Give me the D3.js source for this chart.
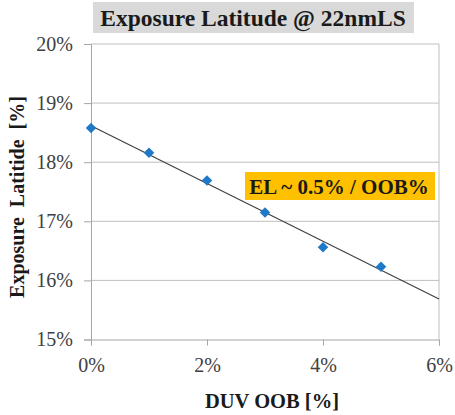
<!DOCTYPE html>
<html>
<head>
<meta charset="utf-8">
<script src="https://cdn.jsdelivr.net/npm/d3@7"></script>
<style>
  body { margin: 0; background: #fff; }
  text { font-family: "Liberation Serif", "Times New Roman", serif; }
</style>
</head>
<body>
<div id="chart"></div>
<script>
// data
const oob = [0, 1, 2, 3, 4, 5];                       // DUV OOB [%]
const el = [18.58, 18.16, 17.69, 17.15, 16.56, 16.23]; // exposure latitude [%]
const xTicks = [0, 2, 4, 6];
const yTicks = [15, 16, 17, 18, 19, 20];
const titleText = 'Exposure Latitude @ 22nmLS';
const noteText = 'EL ~ 0.5% / OOB%';

const width = 455, height = 415;
const margin = {top: 44, right: 16, bottom: 75.5, left: 91};

const svg = d3.select('#chart').append('svg')
    .attr('width', width)
    .attr('height', height);

const x = d3.scaleLinear().domain([0, 6]).range([margin.left, width - margin.right]);
const y = d3.scaleLinear().domain([15, 20]).range([height - margin.bottom, margin.top]);

// gridlines
svg.append('g')
    .selectAll('line')
    .data(yTicks.filter(d => d > 15))
    .enter().append('line')
        .attr('x1', x(0)).attr('x2', x(6))
        .attr('y1', d => y(d)).attr('y2', d => y(d))
        .attr('stroke', '#bfbfbf').attr('stroke-width', 1);

// right edge
svg.append('line')
    .attr('x1', x(6)).attr('x2', x(6))
    .attr('y1', y(20)).attr('y2', y(15))
    .attr('stroke', '#bfbfbf');

const yAxis = svg.append('g')
    .attr('transform', `translate(${x(0)},0)`)
    .call(d3.axisLeft(y).tickValues(yTicks).tickSize(7).tickPadding(11).tickFormat(d => d + '%'));

const xAxis = svg.append('g')
    .attr('transform', `translate(0,${y(15)})`)
    .call(d3.axisBottom(x).tickValues(xTicks).tickSize(6).tickPadding(12).tickFormat(d => d + '%'));

[xAxis, yAxis].forEach(a => {
    a.select('.domain').attr('stroke', '#a6a6a6');
    a.selectAll('.tick line').attr('stroke', '#a6a6a6');
    a.selectAll('.tick text')
        .attr('fill', '#404040')
        .style('font-family', '"Liberation Serif", serif')
        .style('font-size', '20px');
});

// least squares trend line
const mx = d3.mean(oob), my = d3.mean(el);
const slope = d3.sum(oob, (v, i) => (v - mx) * (el[i] - my)) / d3.sum(oob, v => (v - mx) * (v - mx));
const icpt = my - slope * mx;
svg.append('line')
    .attr('x1', x(0)).attr('y1', y(icpt))
    .attr('x2', x(6)).attr('y2', y(icpt + slope * 6))
    .attr('stroke', '#404040').attr('stroke-width', 1.2);

// markers
svg.append('g')
    .selectAll('path')
    .data(oob.map((v, i) => ({x: v, y: el[i]})))
    .enter().append('path')
        .attr('transform', d => `translate(${x(d.x)},${y(d.y)})`)
        .attr('d', d3.symbol().type(d3.symbolDiamond2).size(70))
        .attr('fill', '#1f78c8');

// title
svg.append('rect')
    .attr('x', 93).attr('y', 2).attr('width', 321).attr('height', 31)
    .attr('fill', '#d9d9d9');
svg.append('text')
    .attr('x', 253).attr('y', 26)
    .attr('text-anchor', 'middle')
    .style('font-weight', 'bold').style('font-size', '23.5px')
    .attr('fill', '#1a1a1a')
    .text(titleText);

// annotation
svg.append('rect')
    .attr('x', 245).attr('y', 172).attr('width', 190).attr('height', 28)
    .attr('fill', '#ffc000');
svg.append('text')
    .attr('x', 339).attr('y', 194)
    .attr('text-anchor', 'middle')
    .style('font-weight', 'bold').style('font-size', '21px')
    .attr('fill', '#1a1a1a')
    .text(noteText);

// axis titles
svg.append('text')
    .attr('x', 272).attr('y', 408)
    .attr('text-anchor', 'middle')
    .style('font-weight', 'bold').style('font-size', '20.5px')
    .attr('fill', '#1a1a1a')
    .text('DUV OOB [%]');
svg.append('text')
    .attr('transform', 'translate(24,197) rotate(-90)')
    .attr('text-anchor', 'middle')
    .style('font-weight', 'bold').style('font-size', '20px')
    .style('word-spacing', '5px')
    .attr('fill', '#1a1a1a')
    .text('Exposure Latitide [%]');
</script>
</body>
</html>
